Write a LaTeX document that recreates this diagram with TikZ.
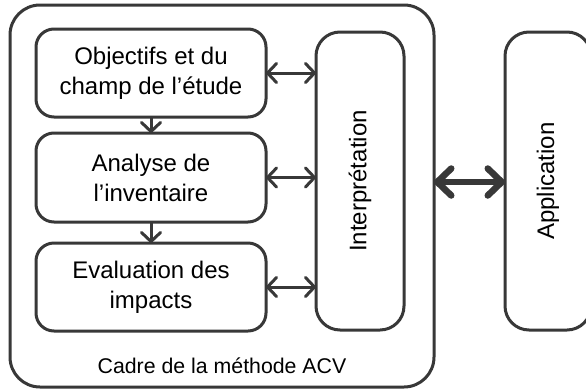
\documentclass[tikz,border=0pt]{standalone}
\usepackage{fontspec}
\setmainfont{Liberation Sans}
\usetikzlibrary{arrows.meta}
\definecolor{ink}{HTML}{383838}
\begin{document}
\begin{tikzpicture}[x=1pt,y=-1pt,
  stepbox/.style={draw=ink,line width=3pt,rounded corners=18pt,inner sep=0pt,outer sep=0pt,
    minimum width=230pt,align=center,font=\fontsize{24}{30}\selectfont,text=black},
  tallbox/.style={draw=ink,line width=3pt,rounded corners=24pt,inner sep=0pt,outer sep=0pt,
    minimum height=298pt},
  link/.style={draw=ink,line width=3pt,{Straight Barb[length=9pt,width=19pt,line cap=round,line join=round]}-{Straight Barb[length=9pt,width=19pt,line cap=round,line join=round]}},
  down/.style={draw=ink,line width=3pt,-{Straight Barb[length=9pt,width=19pt,line cap=round,line join=round]}},
  biglink/.style={draw=ink,line width=6.5pt,{Straight Barb[length=14pt,width=27pt,line cap=round,line join=round]}-{Straight Barb[length=14pt,width=27pt,line cap=round,line join=round]}}]
\useasboundingbox[clip] (0,0) rectangle (586,389);
\fill[white] (0,0) rectangle (586,389);
% outer frame
\node[draw=ink,line width=3pt,rounded corners=30pt,inner sep=0pt,outer sep=0pt,
  minimum width=424pt,minimum height=382pt] (frame) at (222,196) {};
\node[font=\fontsize{21.3}{25}\selectfont] (cadre) at (222,366) {Cadre de la méthode ACV};
% step boxes
\node[stepbox,minimum height=88pt] (obj) at (151,73) {Objectifs et du\\champ de l’étude};
\node[stepbox,minimum height=89pt] (inv) at (151,177.5) {Analyse de\\l’inventaire};
\node[stepbox,minimum height=88pt] (eval) at (151,287) {Evaluation des\\impacts};
% tall boxes
\node[tallbox,minimum width=88pt] (interp) at (360,181) {};
\node[rotate=90,font=\fontsize{24}{28}\selectfont] (interptxt) at (360,181) {Interprétation};
\node[tallbox,minimum width=86pt] (appli) at (548,181) {};
\node[rotate=90,font=\fontsize{24}{28}\selectfont] (applitxt) at (548,181) {Application};
% arrows
\draw[link] (obj.east) -- (obj.east -| interp.west);
\draw[link] (inv.east) -- (inv.east -| interp.west);
\draw[link] (eval.east) -- (eval.east -| interp.west);
\draw[down] (obj.south) -- (inv.north);
\draw[down] (inv.south) -- (eval.north);
\coordinate (bigl) at (frame.east |- 0,182);
\coordinate (bigr) at (appli.west |- 0,182);
\draw[biglink] (bigl) -- (bigr);
\end{tikzpicture}
\end{document}
